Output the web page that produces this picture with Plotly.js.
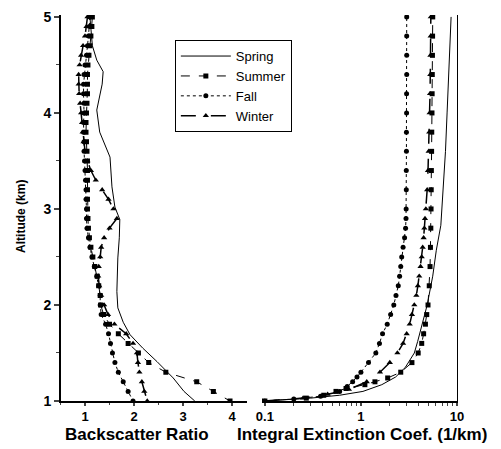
<!DOCTYPE html>
<html>
<head>
<meta charset="utf-8">
<script src="https://cdn.plot.ly/plotly-3.0.1.min.js"></script>
<style>html,body{margin:0;padding:0;background:#fff;}#chart{width:501px;height:449px;}</style>
</head>
<body>
<div id="chart"></div>
<script>
// ---- Left panel: Backscatter ratio vs altitude (km)
const altStep = [5.0, 4.9, 4.8, 4.7, 4.6, 4.5, 4.4, 4.3, 4.2, 4.1, 4.0, 3.9, 3.8, 3.7, 3.6, 3.5, 3.4, 3.3, 3.2, 3.1, 3.0,
                 2.9, 2.8, 2.7, 2.6, 2.5, 2.4, 2.3, 2.2, 2.1, 2.0, 1.9, 1.8, 1.7, 1.6, 1.5, 1.4, 1.3, 1.2, 1.1, 1.0];

const springAltL = [5.0, 4.85, 4.7, 4.55, 4.43, 4.3, 4.2, 4.03, 3.8, 3.54, 3.23, 3.02, 2.89, 2.7, 2.49, 2.3, 2.14, 1.97, 1.82, 1.69, 1.55, 1.41, 1.24, 1.1, 1.0];
const springBsr  = [1.10, 1.12, 1.15, 1.24, 1.37, 1.35, 1.31, 1.24, 1.30, 1.51, 1.55, 1.61, 1.71, 1.70, 1.67, 1.66, 1.65, 1.67, 1.78, 1.92, 2.18, 2.47, 2.80, 3.02, 3.24];

const summerBsr = [1.15, 1.14, 1.12, 1.10, 1.08, 1.06, 1.05, 1.05, 1.05, 1.04, 1.03, 1.02, 1.02, 1.03, 1.04, 1.05, 1.05, 1.05, 1.05, 1.05, 1.05,
                   1.06, 1.07, 1.09, 1.12, 1.16, 1.20, 1.25, 1.28, 1.31, 1.32, 1.38, 1.50, 1.68, 1.88, 2.09, 2.30, 2.65, 3.28, 3.62, 3.96];

const fallBsr = [1.10, 1.09, 1.07, 1.05, 1.03, 1.00, 0.98, 0.97, 0.97, 0.98, 0.98, 0.97, 0.97, 0.98, 0.98, 0.99, 1.00, 1.01, 1.02, 1.02, 1.03,
                 1.03, 1.04, 1.07, 1.10, 1.14, 1.19, 1.24, 1.28, 1.31, 1.31, 1.33, 1.42, 1.48, 1.52, 1.56, 1.61, 1.68, 1.78, 1.88, 1.98];

const winterBsr = [1.05, 1.03, 1.00, 0.96, 0.92, 0.89, 0.87, 0.87, 0.88, 0.90, 0.92, 0.94, 0.95, 0.97, 1.00, 1.05, 1.12, 1.22, 1.35, 1.48, 1.58,
                   1.65, 1.50, 1.39, 1.33, 1.31, 1.28, 1.27, 1.29, 1.33, 1.39, 1.47, 1.60, 1.84, 1.98, 2.06, 2.08, 2.11, 2.16, 2.21, 2.27];

// ---- Right panel: Integral extinction coefficient (1/km) vs altitude (km)
const springAltR = [1.0, 1.03, 1.06, 1.1, 1.17, 1.25, 1.35, 1.5, 1.62, 1.75, 2.0, 2.3, 2.57, 2.83, 3.2, 3.6, 4.0, 4.5, 5.0];
const springExt  = [0.1, 0.3, 0.6, 1.05, 1.65, 2.3, 2.9, 3.6, 3.9, 4.2, 4.9, 5.6, 6.1, 6.8, 7.2, 7.6, 7.9, 8.3, 8.7];

const summerAltR = [1.0, 1.03, 1.06, 1.1, 1.13, 1.17, 1.2, 1.24, 1.3, 1.4, 1.5, 1.6, 1.7, 1.8, 1.9, 2.0, 2.2, 2.4, 2.6, 2.8, 3.0, 3.2, 3.4, 3.6, 3.8, 4.0, 4.2, 4.4, 4.6, 4.8, 5.0];
const summerExt  = [0.1, 0.27, 0.41, 0.55, 0.7, 1.1, 1.4, 1.9, 2.6, 3.4, 3.95, 4.3, 4.5, 4.7, 4.85, 5.0, 5.15, 5.25, 5.3, 5.35, 5.38, 5.4, 5.42, 5.45, 5.47, 5.5, 5.52, 5.54, 5.56, 5.58, 5.6];

const fallAltR = [1.0, 1.02, 1.05, 1.1, 1.15, 1.2, 1.25, 1.3, 1.4, 1.5, 1.6, 1.7, 1.8, 1.9, 2.0, 2.1, 2.2, 2.3, 2.4, 2.5, 2.6, 2.7, 2.8, 2.9, 3.0, 3.2, 3.4, 3.6, 3.8, 4.0, 4.2, 4.4, 4.6, 4.8, 5.0];
const fallExt  = [0.093, 0.2, 0.38, 0.6, 0.72, 0.82, 0.91, 1.0, 1.2, 1.43, 1.56, 1.68, 1.88, 2.04, 2.2, 2.32, 2.45, 2.53, 2.6, 2.66, 2.75, 2.85, 2.92, 2.95, 2.96, 2.97, 2.97, 2.98, 2.98, 2.99, 2.99, 3.0, 3.0, 3.0, 3.0];

const winterAltR = [1.0, 1.03, 1.07, 1.12, 1.2, 1.3, 1.4, 1.5, 1.6, 1.7, 1.8, 1.9, 2.0, 2.1, 2.2, 2.3, 2.4, 2.5, 2.6, 2.7, 2.8, 2.9, 3.0, 3.2, 3.4, 3.6, 3.8, 4.0, 4.2, 4.4, 4.6, 4.8, 5.0];
const winterExt  = [0.1, 0.25, 0.45, 0.75, 1.15, 1.58, 2.0, 2.4, 2.75, 3.0, 3.22, 3.4, 3.6, 3.78, 3.92, 4.05, 4.18, 4.3, 4.4, 4.5, 4.58, 4.65, 4.75, 4.9, 5.0, 5.08, 5.15, 5.2, 5.25, 5.28, 5.3, 5.33, 5.35];

const seasons = ['Spring', 'Summer', 'Fall', 'Winter'];
const xTicksL = [1, 2, 3, 4];
const xTicksR = [0.1, 1, 10];
const xTickTextR = ['0.1', '1', '10'];
const yTicks = [1, 2, 3, 4, 5];

const styles = {
  Spring: {mode: 'lines', line: {color: '#000', width: 1, dash: 'solid'}},
  Summer: {mode: 'lines+markers', line: {color: '#000', width: 1, dash: 'dash'}, marker: {symbol: 'square', size: 5, color: '#000'}},
  Fall:   {mode: 'lines+markers', line: {color: '#000', width: 1, dash: 'dot'}, marker: {symbol: 'circle', size: 5, color: '#000'}},
  Winter: {mode: 'lines+markers', line: {color: '#000', width: 1.5, dash: 'longdash'}, marker: {symbol: 'triangle-up', size: 5.5, color: '#000'}}
};

const left = {Spring: [springBsr, springAltL], Summer: [summerBsr, altStep], Fall: [fallBsr, altStep], Winter: [winterBsr, altStep]};
const right = {Spring: [springExt, springAltR], Summer: [summerExt, summerAltR], Fall: [fallExt, fallAltR], Winter: [winterExt, winterAltR]};

const traces = [];
seasons.forEach(s => {
  traces.push(Object.assign({type: 'scatter', name: s, x: left[s][0], y: left[s][1], xaxis: 'x', yaxis: 'y', showlegend: true}, styles[s]));
});
seasons.forEach(s => {
  traces.push(Object.assign({type: 'scatter', name: s, x: right[s][0], y: right[s][1], xaxis: 'x2', yaxis: 'y2', showlegend: false}, styles[s]));
});

const FAM = 'Liberation Sans, Arial, sans-serif';
const tickFont = {family: FAM, size: 13, color: '#000', weight: 'bold'};
const titleFont = {family: FAM, size: 17, color: '#000', weight: 'bold'};

const layout = {
  width: 501, height: 449,
  margin: {l: 0, r: 0, t: 15, b: 48},
  paper_bgcolor: '#fff', plot_bgcolor: '#fff',
  showlegend: true,
  legend: {x: 0.349, y: 0.935, xanchor: 'left', yanchor: 'top', bgcolor: '#fff', bordercolor: '#000', borderwidth: 1,
           font: {family: FAM, size: 13, color: '#000'}, itemwidth: 50, tracegroupgap: 0},
  xaxis: {domain: [0.1208, 0.4924], range: [0.5, 4.3], tickvals: xTicksL, ticks: 'outside', ticklen: 3, tickwidth: 1.5,
          showline: true, linecolor: '#000', linewidth: 1.5, showgrid: false, zeroline: false, anchor: 'y',
          tickfont: tickFont, minor: {dtick: 0.5, ticks: 'outside', ticklen: 2, tickwidth: 1, showgrid: false}},
  yaxis: {domain: [0, 1], range: [1, 5.02], tickvals: yTicks, ticks: 'outside', ticklen: 5, tickwidth: 1.5,
          showline: true, linecolor: '#000', linewidth: 1.5, showgrid: false, zeroline: false, anchor: 'x',
          tickfont: {family: FAM, size: 14, color: '#000', weight: 'bold'}, minor: {dtick: 0.5, ticks: 'outside', ticklen: 3, tickwidth: 1, showgrid: false}},
  xaxis2: {domain: [0.523, 0.912], type: 'log', range: [-1.03, 1.0], tickvals: xTicksR, ticktext: xTickTextR, ticks: 'outside', ticklen: 3, tickwidth: 1.5,
           showline: true, linecolor: '#000', linewidth: 1.5, showgrid: false, zeroline: false, anchor: 'y2',
           tickfont: tickFont, minor: {tickvals: [0.2,0.3,0.4,0.5,0.6,0.7,0.8,0.9,2,3,4,5,6,7,8,9], ticks: 'outside', ticklen: 3, tickwidth: 1, showgrid: false}},
  yaxis2: {domain: [0, 1], range: [1, 5.02], anchor: 'x2', side: 'right', showline: true, linecolor: '#000', linewidth: 1.5,
           ticks: '', showticklabels: false, showgrid: false, zeroline: false},
  annotations: [
    {text: 'Backscatter Ratio', xref: 'paper', yref: 'paper', x: 137/501, y: -0.087, xanchor: 'center', yanchor: 'middle', showarrow: false, font: titleFont},
    {text: 'Integral Extinction Coef. (1/km)', xref: 'paper', yref: 'paper', x: 362/501, y: -0.087, xanchor: 'center', yanchor: 'middle', showarrow: false, font: titleFont},
    {text: 'Altitude (km)', xref: 'paper', yref: 'paper', x: 21/501, y: 0.477, xanchor: 'center', yanchor: 'middle', textangle: -90, showarrow: false,
     font: {family: FAM, size: 12, color: '#000', weight: 'bold'}}
  ]
};

Plotly.newPlot('chart', traces, layout, {staticPlot: true, displayModeBar: false});
</script>
</body>
</html>
